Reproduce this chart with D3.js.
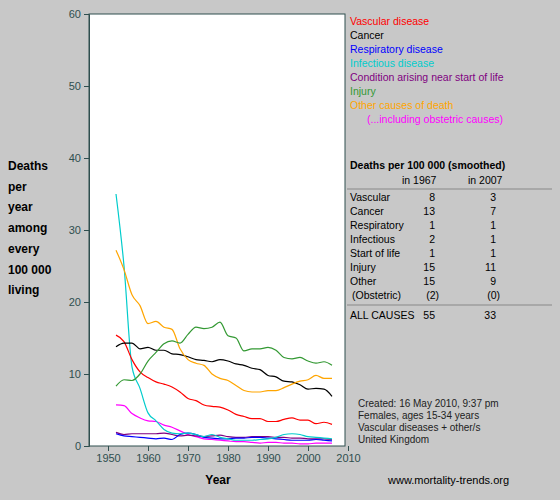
<!DOCTYPE html><html><head><script src="https://cdn.jsdelivr.net/npm/d3@7"></script>
<style>body{margin:0;background:#c8c8c8}svg{font-family:Arial,"Liberation Sans",sans-serif}</style></head><body>
<svg id="c" width="560" height="500"></svg>
<script>
const years = d3.range(1952, 2007, 2);
const vascular = [15.4,14.5,12,10.3,9.5,8.9,8.6,8.2,7.5,6.6,6.3,5.7,5.5,5.4,5.0,4.4,4.1,3.8,3.8,3.4,3.4,3.7,3.9,3.6,3.6,3.1,3.3,3.0];
const cancer = [13.8,14.3,14.3,13.5,13.7,13.3,13.3,12.8,12.7,12.4,12.0,11.9,11.7,12.0,11.8,11.4,11.2,10.8,10.6,9.8,9.6,9.0,8.9,8.5,7.9,8.0,7.9,6.9];
const respiratory = [1.7,1.4,1.3,1.2,1.1,1.0,1.1,0.9,1.6,1.8,1.6,1.2,1.1,1.0,1.0,1.1,1.1,1.2,1.2,1.1,1.0,0.9,0.8,0.8,0.8,0.9,0.8,0.7];
const infectious = [35,25,11,8,4.6,3.5,2.3,1.8,1.7,1.8,1.6,1.3,1.6,1.2,1.0,0.8,0.8,0.8,0.9,1.0,1.2,1.6,1.7,1.6,1.3,1.2,1.1,1.0];
const startOfLife = [1.9,1.6,1.7,1.7,1.7,1.7,1.8,1.6,1.4,1.5,1.4,1.3,1.4,1.5,1.3,1.2,1.2,1.3,1.3,1.3,1.2,1.2,1.1,1.1,1.0,1.0,1.0,0.9];
const injury = [8.3,9.2,9.1,10,11.8,13,14.2,14.6,14.3,15.5,16.5,16.3,16.5,17.2,15.3,15,13.2,13.5,13.5,13.7,13.3,12.3,12.1,12.3,11.8,11.5,11.7,11.2];
const other = [27.2,24.5,21,19.5,17,17.3,16.5,16.2,13.5,12,11.5,11.2,10,9.4,9.1,8.4,7.7,7.5,7.5,7.7,7.7,8.1,8.6,9,9.2,9.8,9.4,9.4];
const obstetric = [5.7,5.6,4.5,3.9,3.5,3.4,2.9,2.6,2.1,1.6,1.3,1.0,0.9,0.8,0.7,0.6,0.6,0.5,0.4,0.5,0.5,0.4,0.4,0.3,0.3,0.4,0.4,0.4];
const xTicks = [1950,1960,1970,1980,1990,2000,2010];
const yTicks = [0,10,20,30,40,50,60];
const legendLabels = ["Vascular disease","Cancer","Respiratory disease","Infectious disease","Condition arising near start of life","Injury","Other causes of death","(...including obstetric causes)"];
const colors = ["#ff0000","#000000","#0000ff","#00cccc","#800080","#339933","#ffa500","#ff00ff"];
const seriesList = [vascular,cancer,respiratory,infectious,startOfLife,injury,other,obstetric];
const tableRows = ["Vascular","Cancer","Respiratory","Infectious","Start of life","Injury","Other","(Obstetric)"];
const v1967 = ["8","13","1","2","1","15","15","(2)"];
const v2007 = ["3","7","1","1","1","11","9","(0)"];
const totals = ["55","33"];
const yLabel = ["Deaths","per","year","among","every","100 000","living"];
const notes = ["Created: 16 May 2010, 9:37 pm","Females, ages 15-34 years","Vascular diseases + other/s","United Kingdom"];

const svg = d3.select("#c");
const x = d3.scaleLinear().domain([1945.25,2009.25]).range([89,345]);
const y = d3.scaleLinear().domain([0,60]).range([446,14]);
svg.append("rect").attr("x",89).attr("y",14).attr("width",256).attr("height",432).attr("fill","#fff").attr("stroke","#2f4f4f");
const ax = svg.append("g").attr("transform","translate(0,446)").call(d3.axisBottom(x).tickValues(xTicks).tickFormat(d3.format("d")).tickSize(5));
const ay = svg.append("g").attr("transform","translate(89,0)").call(d3.axisLeft(y).tickValues(yTicks).tickSize(5));
[ax,ay].forEach(a=>{a.selectAll("path,line").attr("stroke","#2f4f4f");a.selectAll("text").attr("fill","#2f4f4f").attr("font-size",11);});
ax.select(".domain").remove();
const line = d3.line().x((d,i)=>x(years[i])).y(d=>y(d)).curve(d3.curveMonotoneX);
const order = [7,4,2,3,0,1,6,5];
order.forEach(k=>svg.append("path").attr("d",line(seriesList[k])).attr("fill","none").attr("stroke",colors[k]).attr("stroke-width",1.2));
legendLabels.forEach((t,i)=>svg.append("text").attr("x",i==7?367:350).attr("y",25+i*14).attr("font-size",10.5).attr("fill",colors[i]).text(t));
svg.append("text").attr("x",350).attr("y",169).attr("font-size",10.5).attr("font-weight","bold").text("Deaths per 100 000 (smoothed)");
svg.append("text").attr("x",402).attr("y",184).attr("font-size",10.5).text("in 1967");
svg.append("text").attr("x",468).attr("y",184).attr("font-size",10.5).text("in 2007");
[189,305].forEach(yy=>svg.append("line").attr("x1",347).attr("x2",552).attr("y1",yy).attr("y2",yy).attr("stroke","#888"));
tableRows.forEach((t,i)=>{
  const yy=201+i*14;
  svg.append("text").attr("x",i==7?352:350).attr("y",yy).attr("font-size",10.5).text(t);
  svg.append("text").attr("x",i==7?439:435).attr("y",yy).attr("font-size",10.5).attr("text-anchor","end").text(v1967[i]);
  svg.append("text").attr("x",i==7?500:496).attr("y",yy).attr("font-size",10.5).attr("text-anchor","end").text(v2007[i]);
});
svg.append("text").attr("x",350).attr("y",319).attr("font-size",10.5).text("ALL CAUSES");
svg.append("text").attr("x",435).attr("y",319).attr("font-size",10.5).attr("text-anchor","end").text(totals[0]);
svg.append("text").attr("x",496).attr("y",319).attr("font-size",10.5).attr("text-anchor","end").text(totals[1]);
yLabel.forEach((t,i)=>svg.append("text").attr("x",8).attr("y",170+i*20.7).attr("font-size",12).attr("font-weight","bold").text(t));
svg.append("text").attr("x",218).attr("y",484).attr("font-size",12).attr("font-weight","bold").attr("text-anchor","middle").text("Year");
notes.forEach((t,i)=>svg.append("text").attr("x",358).attr("y",407+i*12).attr("font-size",10).attr("fill","#222").text(t));
svg.append("text").attr("x",388).attr("y",484).attr("font-size",11).text("www.mortality-trends.org");
</script></body></html>
